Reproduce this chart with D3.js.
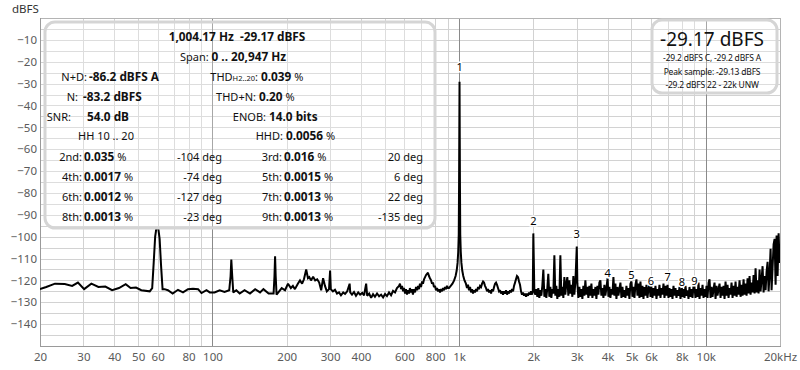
<!DOCTYPE html>
<html><head><meta charset="utf-8">
<script src="https://cdn.jsdelivr.net/npm/d3@7/dist/d3.min.js"></script>
<style>body{margin:0;background:#fff}svg{display:block}text{white-space:pre}</style>
</head><body><svg id="chart" width="800" height="370"></svg>
<script>
// ---------- data ----------
const spectrumLow = [[20,-124],[21.2,-123],[23,-121.5],[25.2,-121.7],[27,-122.5],[28.5,-121],[30.2,-124],[32.3,-121.5],[34.5,-123],[36.8,-122.8],[39.2,-124.5],[41.8,-123.5],[44.5,-121.7],[46.6,-123.5],[49,-123.3],[51.5,-124.5],[55.7,-125],[57,-123.5],[57.8,-112],[58.6,-100],[59.3,-96],[60.3,-96],[61.1,-101],[61.9,-113],[62.8,-124],[64,-124],[66,-124.5],[69,-126],[72.5,-124.3],[76,-125.5],[79.6,-124],[83.4,-123.8],[87.5,-124],[90.3,-125.8],[94.6,-124.5],[97.6,-125.5],[102,-125.5],[107,-124.5],[112,-125.3],[117,-124.5],[118.5,-118],[119.3,-110.5],[120.3,-118],[121.5,-125.5],[125,-124.5],[129,-126],[135,-124.5],[142,-126],[149,-124],[156,-125.5],[161,-124],[169,-126],[177,-126],[178.5,-118],[179.5,-109],[180.5,-118],[182,-126.5],[191,-123.5],[197,-124.5],[202.5,-121.5],[208,-123.5],[212,-122.5],[216,-124],[222,-121.5],[226.5,-120],[231,-121.5],[235,-119.5],[240,-115],[244,-119],[247,-118.5],[251,-120],[256,-118.3],[261,-120],[266,-119.5],[271,-121],[276,-124.5],[281,-119],[286,-122.5],[291,-125],[297,-124],[300,-115.5],[302,-124],[308,-125],[314,-124.3],[320,-126],[326,-125.5],[332,-126.8],[339,-125.5],[345,-126.2],[352,-125],[360,-121.5],[362,-125.5],[368,-126.5],[375,-125.3],[382,-127],[390,-125.5],[397,-126.5],[405,-125.7],[412,-126.8],[420,-121.5],[424,-127],[432,-126],[440,-128],[448,-126.3],[456,-127.5],[465,-126],[474,-127.3],[483,-126.5],[492,-127.8],[501,-126.2],[510,-127.2],[520,-125.5],[530,-126.8],[540,-124.8],[550,-125.5],[560,-123.5],[571,-122.5],[576,-121.5]];

const spectrumMid = [[582,-124],[587,-122.5],[593,-125],[598,-123.5],[604,-126],[609,-124],[615,-126.5],[621,-124.5],[627,-126],[632,-123.5],[638,-125.5],[644,-124],[650,-126.5],[657,-124],[663,-125.5],[669,-123],[676,-124.5],[682,-122.5],[688,-124],[694,-121.5],[701,-123],[708,-120.5],[714,-121.5],[721,-119.5],[728,-118.5],[735,-117.5],[741,-117],[748,-116.5],[755,-118],[762,-119],[770,-120],[777,-121.5],[784,-121],[791,-123],[799,-122.5],[806,-124.5],[814,-123.5],[822,-125],[830,-124],[837,-125.5],[845,-124],[853,-125],[861,-123.5],[869,-124.5],[877,-123],[885,-124],[893,-122.5],[902,-123.5],[910,-123.5],[925,-122.5],[940,-121.5],[955,-120],[968,-118],[978,-115.5],[986,-112],[992,-107],[997,-99],[1000,-75],[1004.17,-29.17],[1008,-75],[1011,-99],[1016,-107],[1022,-112],[1030,-115.5],[1040,-118],[1052,-120],[1066,-121.5],[1077,-123.5],[1087,-122],[1097,-124.5],[1108,-123],[1118,-125.5],[1129,-124],[1139,-126],[1150,-124.5],[1160,-125.5],[1171,-124],[1182,-125],[1194,-123],[1205,-124],[1216,-122.5],[1228,-123],[1239,-121.5],[1251,-120.5],[1262,-121],[1274,-122.5],[1286,-123.5],[1298,-125],[1310,-124],[1323,-125.5],[1335,-124.5],[1348,-126],[1360,-124],[1373,-125],[1386,-123],[1399,-121.5],[1412,-121],[1425,-122],[1438,-123.5],[1452,-125],[1466,-124.5],[1479,-126],[1493,-125],[1507,-126.5],[1521,-125],[1536,-126],[1550,-124.5],[1565,-126.5],[1579,-125],[1594,-126],[1609,-124.5],[1624,-125.5],[1639,-124],[1655,-125],[1670,-122.5],[1686,-121],[1701,-119.5],[1717,-118],[1734,-118.5],[1750,-120.5],[1766,-122],[1783,-125],[1799,-126.5],[1816,-125.5],[1833,-127],[1850,-126],[1868,-127.5],[1885,-126],[1903,-127],[1921,-125.5],[1939,-126.5],[1957,-125],[1975,-126.5],[1990,-125]];

const spectrumHigh = [[2000,-98.5],[2019,-125],[2038,-126.5],[2057,-124],[2076,-127.5],[2095,-123.5],[2115,-128],[2135,-124.5],[2155,-127],[2175,-122.5],[2196,-115],[2217,-127.5],[2237,-124],[2258,-128],[2279,-123.5],[2300,-117],[2322,-127.5],[2344,-123],[2366,-128],[2388,-124],[2411,-126],[2434,-108.5],[2456,-127],[2479,-122.5],[2502,-128.5],[2525,-124],[2550,-127.5],[2574,-108.5],[2598,-127],[2622,-123],[2647,-128],[2672,-118.5],[2696,-126.5],[2721,-121.5],[2747,-118.5],[2773,-127],[2799,-120],[2825,-126],[2852,-122],[2879,-127.5],[2906,-118],[2933,-126.5],[2961,-121],[3000,-104.5],[3017,-121.5],[3045,-128],[3074,-123],[3103,-127.5],[3132,-124],[3161,-128.5],[3191,-122.5],[3221,-127],[3251,-120],[3281,-126.5],[3312,-123],[3343,-128],[3375,-122.5],[3407,-127],[3439,-121.5],[3471,-128],[3504,-124],[3537,-127],[3570,-123],[3603,-128.5],[3637,-122.5],[3671,-126.5],[3705,-121],[3740,-120],[3775,-127],[3810,-123.5],[3847,-128],[3883,-122],[3919,-127],[3956,-123.5],[4000,-119],[4031,-127.5],[4069,-123],[4107,-128],[4145,-124],[4184,-126.5],[4224,-118.5],[4263,-127],[4303,-121.5],[4344,-128.5],[4385,-123],[4426,-127],[4467,-124],[4509,-121],[4552,-128],[4595,-123],[4638,-127.5],[4681,-124.5],[4725,-128],[4769,-122.5],[4814,-127],[4859,-123.5],[4905,-128.5],[4951,-121.5],[5000,-120.5],[5045,-127.5],[5092,-123],[5140,-128],[5188,-122],[5237,-119.5],[5286,-127],[5336,-121.5],[5386,-128],[5436,-120.5],[5487,-127.5],[5539,-122.5],[5591,-128.5],[5643,-123],[5696,-127],[5750,-122],[5804,-128],[5858,-124],[5913,-121.5],[5969,-127.5],[6000,-121.5],[6081,-128],[6138,-123.5],[6196,-127],[6254,-122.5],[6313,-128.5],[6372,-124],[6432,-127],[6492,-122],[6553,-128],[6615,-123.5],[6677,-126.5],[6740,-121.5],[6803,-128],[6867,-122.5],[6931,-127],[7000,-122],[7062,-128],[7128,-123.5],[7195,-127.5],[7263,-124],[7331,-128.5],[7400,-122.5],[7469,-127],[7539,-123.5],[7610,-128],[7682,-124.5],[7754,-127],[7827,-123],[7900,-128.5],[8000,-123.5],[8049,-127.5],[8125,-124],[8201,-128],[8278,-122.5],[8356,-127],[8434,-124.5],[8513,-128.5],[8593,-123],[8674,-127.5],[8755,-124],[8837,-128],[8920,-122.5],[9000,-123],[9089,-128],[9174,-124],[9260,-127.5],[9347,-121],[9435,-128.5],[9524,-123.5],[9613,-127],[9703,-122],[9794,-128],[9886,-124],[9979,-127.5],[10073,-122.5],[10167,-128],[10263,-121],[10359,-119.5],[10456,-128],[10555,-123],[10654,-127.5],[10754,-124],[10855,-121],[10957,-128.5],[11060,-122.5],[11163,-127],[11268,-124],[11374,-121.5],[11481,-128],[11588,-123],[11697,-127],[11807,-122.5],[11918,-128.5],[12030,-120.5],[12143,-127],[12257,-122],[12372,-128],[12488,-123.5],[12605,-126.5],[12723,-121],[12843,-128],[12963,-122.5],[13085,-127],[13208,-120.5],[13332,-127.5],[13457,-123],[13583,-126.5],[13711,-120],[13840,-127.5],[13970,-122],[14101,-127],[14233,-119.5],[14367,-126.5],[14502,-121.5],[14638,-127],[14775,-119],[14914,-126],[15054,-118],[15195,-126.5],[15338,-121],[15482,-125.5],[15627,-117.5],[15774,-126],[15922,-114.5],[16072,-125.5],[16223,-120],[16375,-126],[16529,-115],[16684,-125],[16840,-119.5],[16998,-113.5],[17158,-125.5],[17319,-118],[17482,-124.5],[17646,-116],[17811,-111.5],[17979,-125],[18147,-117],[18318,-105.5],[18490,-124.5],[18664,-114],[18839,-103.5],[19016,-101],[19194,-122],[19374,-99.5],[19556,-118],[19740,-98.5],[19925,-112],[20000,-110]];

const freqTicks = [20,30,40,50,60,80,100,200,300,400,600,800,1000,2000,3000,4000,5000,6000,8000,10000,20000];
const freqTickLabels = ["20","30","40","50","60","80","100","200","300","400","600","800","1k","2k","3k","4k","5k","6k","8k","10k","20kHz"];
const freqGrid = [30,40,50,60,70,80,90,200,300,400,500,600,700,800,900,2000,3000,4000,5000,6000,7000,8000,9000];
const freqDecades = [100,1000,10000];
const levelTicks = [-10,-20,-30,-40,-50,-60,-70,-80,-90,-100,-110,-120,-130,-140];
const levelGrid = [-5,-10,-15,-20,-25,-30,-35,-40,-45,-50,-55,-60,-65,-70,-75,-80,-85,-90,-95,-100,-105,-110,-115,-120,-125,-130,-135,-140,-145];

const harmonicNumbers = ["1","2","3","4","5","6","7","8","9"];
const harmonicFreqs = [1004.17,2000,3000,4000,5000,6000,7000,8000,9000];
const harmonicLabelLevels = [-22.5,-92.9,-98.8,-116.8,-117.5,-120.1,-118.3,-120.8,-120.1];

const harmonicRows = [
  ["2nd:","0.035","-104 deg","3rd:","0.016","20 deg"],
  ["4th:","0.0017","-74 deg","5th:","0.0015","6 deg"],
  ["6th:","0.0012","-127 deg","7th:","0.0013","22 deg"],
  ["8th:","0.0013","-23 deg","9th:","0.0013","-135 deg"]
];
const levelReadout = ["-29.17 dBFS","-29.2 dBFS C, -29.2 dBFS A","Peak sample: -29.13 dBFS","-29.2 dBFS 22 - 22k UNW"];

// ---------- chart ----------
const W = 800, H = 370;
const L = 40, R = 780, T = 18, B = 346;
const FONT = "'Noto Sans', 'Open Sans', sans-serif";
const svg = d3.select("#chart");
svg.append("rect").attr("width", W).attr("height", H).attr("fill", "#fff");

const x = d3.scaleLog().domain([20, 20000]).range([L, R]);
const y = d3.scaleLinear().domain([0, -150]).range([T, B]);

const grid = svg.append("g");
grid.selectAll("line.h").data(levelGrid).join("line")
  .attr("x1", L).attr("x2", R).attr("y1", d => Math.round(y(d)) + 0.5).attr("y2", d => Math.round(y(d)) + 0.5)
  .attr("stroke", "#d2d2d2").attr("stroke-width", 1);
grid.selectAll("line.v").data(freqGrid).join("line")
  .attr("y1", T).attr("y2", B).attr("x1", d => Math.round(x(d)) + 0.5).attr("x2", d => Math.round(x(d)) + 0.5)
  .attr("stroke", "#d2d2d2").attr("stroke-width", 1);
grid.selectAll("line.d").data(freqDecades).join("line")
  .attr("y1", T).attr("y2", B).attr("x1", d => Math.round(x(d)) + 0.5).attr("x2", d => Math.round(x(d)) + 0.5)
  .attr("stroke", "#8a8a8a").attr("stroke-width", 1);
// frame
svg.append("rect").attr("x", L + 0.5).attr("y", T + 0.5).attr("width", R - L).attr("height", B - T)
  .attr("fill", "none").attr("stroke", "#b4b4b4").attr("stroke-width", 1);
svg.append("line").attr("x1", L + 0.5).attr("x2", L + 0.5).attr("y1", T).attr("y2", B + 1).attr("stroke", "#9a9a9a");
svg.append("line").attr("x1", L).attr("x2", R + 1).attr("y1", B + 0.5).attr("y2", B + 0.5).attr("stroke", "#9a9a9a");

// axes labels via d3 axes
const yAxis = d3.axisLeft(y).tickValues(levelTicks).tickSize(0).tickPadding(3);
const gy = svg.append("g").attr("transform", `translate(${L},0)`).call(yAxis);
gy.select(".domain").remove();
gy.selectAll("text").attr("font-family", FONT).attr("font-size", 11.5).attr("fill", "#5a5a5a");

const xAxis = d3.axisBottom(x).tickValues(freqTicks).tickFormat((d, i) => freqTickLabels[i]).tickSize(0).tickPadding(7);
const gx = svg.append("g").attr("transform", `translate(0,${B})`).call(xAxis);
gx.select(".domain").remove();
gx.selectAll("text").attr("font-family", FONT).attr("font-size", 11.5).attr("fill", "#5a5a5a");

svg.append("text").attr("x", 12).attr("y", 13).attr("font-family", FONT).attr("font-size", 11.5)
  .attr("fill", "#333").text("dBFS");

// spectrum
const spectrum = spectrumLow.concat(spectrumMid, spectrumHigh);
svg.append("clipPath").attr("id", "plotclip").append("rect")
  .attr("x", L).attr("y", T).attr("width", R - L).attr("height", B - T);
const line = d3.line().x(d => x(d[0])).y(d => y(d[1]));
svg.append("path").datum(spectrum).attr("clip-path", "url(#plotclip)")
  .attr("d", line).attr("fill", "none").attr("stroke", "#000").attr("stroke-width", 2)
  .attr("stroke-linejoin", "miter").attr("stroke-miterlimit", 2);

// harmonic labels
svg.append("g").selectAll("text").data(harmonicNumbers).join("text")
  .attr("x", (d, i) => x(harmonicFreqs[i])).attr("y", (d, i) => y(harmonicLabelLevels[i]) + 4)
  .attr("text-anchor", "middle").attr("font-family", FONT).attr("font-size", 11)
  .attr("fill", "#000").attr("stroke", "#fff").attr("stroke-width", 3).attr("paint-order", "stroke")
  .text(d => d);

// readout box (left)
const box = svg.append("g").attr("font-family", FONT).attr("font-size", 11).attr("fill", "#111");
box.append("rect").attr("x", 45).attr("y", 22).attr("width", 390).attr("height", 206).attr("rx", 10)
  .attr("fill", "rgba(255,255,255,0.25)").attr("stroke", "#d5d5d5").attr("stroke-width", 3);
box.append("text").attr("x", 237).attr("y", 41).attr("text-anchor", "middle").attr("font-weight", "bold")
  .attr("font-size", 11.8).text("1,004.17 Hz  -29.17 dBFS");
const span = box.append("text").attr("x", 233).attr("y", 61).attr("text-anchor", "middle");
span.append("tspan").text("Span: ");
span.append("tspan").attr("font-weight", "bold").attr("font-size", 11.8).text("0 .. 20,947 Hz");

function pair(xl, xv, yy, label, value, unit) {
  box.append("text").attr("x", xl).attr("y", yy).attr("text-anchor", "end").text(label);
  const t = box.append("text").attr("x", xv).attr("y", yy);
  t.append("tspan").attr("font-weight", "bold").attr("font-size", 11.8).text(value);
  if (unit) t.append("tspan").text(unit);
}
pair(87, 89, 81, "N+D:", "-86.2 dBFS A");
pair(78, 83, 101, "N:", "-83.2 dBFS");
pair(71, 87, 121, "SNR:", "54.0 dB");
box.append("text").attr("x", 78).attr("y", 140).text("HH 10 .. 20");

const thd = box.append("text").attr("x", 258).attr("y", 81).attr("text-anchor", "end");
thd.append("tspan").text("THD");
thd.append("tspan").attr("font-size", 7.5).text("H2..20");
thd.append("tspan").text(":");
box.append("text").attr("x", 261).attr("y", 81).call(t => {
  t.append("tspan").attr("font-weight", "bold").attr("font-size", 11.8).text("0.039"); t.append("tspan").text(" %");
});
pair(256, 259, 101, "THD+N:", "0.20", " %");
pair(266, 269, 121, "ENOB:", "14.0 bits");
pair(283, 286, 140, "HHD:", "0.0056", " %");

harmonicRows.forEach((r, i) => {
  const yy = 161 + i * 20;
  pair(82, 84, yy, r[0], r[1], " %");
  box.append("text").attr("x", 222).attr("y", yy).attr("text-anchor", "end").text(r[2]);
  pair(282, 284, yy, r[3], r[4], " %");
  box.append("text").attr("x", 423).attr("y", yy).attr("text-anchor", "end").text(r[5]);
});

// level box (right)
const rb = svg.append("g").attr("font-family", FONT).attr("fill", "#111");
rb.append("rect").attr("x", 652).attr("y", 20).attr("width", 125).attr("height", 73).attr("rx", 10)
  .attr("fill", "rgba(255,255,255,0.25)").attr("stroke", "#d5d5d5").attr("stroke-width", 3);
rb.append("text").attr("x", 712).attr("y", 46).attr("text-anchor", "middle").attr("font-size", 19)
  .text(levelReadout[0]);
levelReadout.slice(1).forEach((s, i) => {
  rb.append("text").attr("x", 712).attr("y", 61 + i * 13.5).attr("text-anchor", "middle")
    .attr("font-size", 8.5).attr("letter-spacing", "-0.2").text(s);
});
</script></body></html>
